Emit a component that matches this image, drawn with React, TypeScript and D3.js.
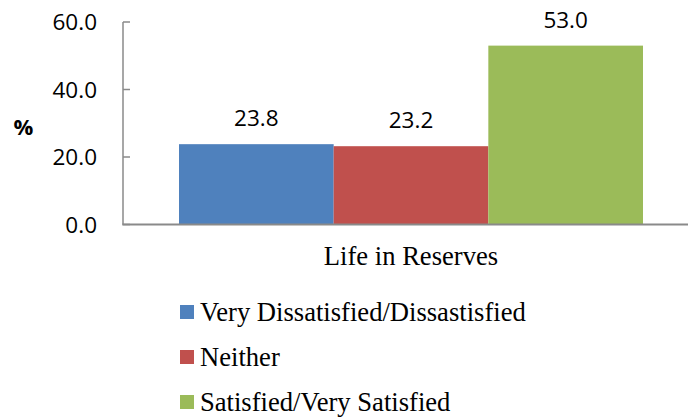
import React from "react";
import * as d3 from "d3";

const categories = ["Life in Reserves"];
const seriesNames = ["Very Dissatisfied/Dissastisfied", "Neither", "Satisfied/Very Satisfied"];
const seriesValues = [23.8, 23.2, 53.0];
const seriesColors = ["#4F81BD", "#C0504D", "#9BBB59"];
const yTicks = [0, 20, 40, 60];

const W = 688;
const H = 419;
const plotLeft = 123;
const plotRight = 699;
const plotTop = 22;
const plotBottom = 224.5;

export default function App() {
  const y = d3.scaleLinear().domain([0, 60]).range([plotBottom, plotTop]);
  const xCat = d3
    .scaleBand<string>()
    .domain(categories)
    .range([plotLeft, plotRight])
    .paddingInner(0)
    .paddingOuter(0.1207);
  const xSer = d3
    .scaleBand<string>()
    .domain(seriesNames)
    .range([0, xCat.bandwidth()])
    .padding(0);
  const sansFont = "'Open Sans', 'Liberation Sans', sans-serif";
  const serifFont = "'Liberation Serif', 'Times New Roman', serif";
  const axisColor = "#8a8a8a";

  return (
    <svg
      width={W}
      height={H}
      style={{ position: "fixed", left: 0, top: 0, background: "#fff" }}
    >
      <rect x={0} y={0} width={W} height={H} fill="#fff" />
      {/* bars */}
      {categories.map((c) => (
        <g key={c} transform={`translate(${xCat(c)},0)`}>
          {seriesNames.map((s, i) => (
            <g key={s}>
              <rect
                x={xSer(s)}
                y={y(seriesValues[i])}
                width={xSer.bandwidth()}
                height={y(0) - y(seriesValues[i])}
                fill={seriesColors[i]}
              />
              <text
                x={(xSer(s) as number) + xSer.bandwidth() / 2}
                y={y(seriesValues[i]) - 18}
                textAnchor="middle"
                fontFamily={sansFont}
                fontSize={22.5}
                fill="#000"
              >
                {seriesValues[i].toFixed(1)}
              </text>
            </g>
          ))}
        </g>
      ))}
      {/* y axis */}
      <line x1={plotLeft} x2={plotLeft} y1={plotTop} y2={plotBottom} stroke={axisColor} strokeWidth={1.5} />
      {yTicks.map((t) => (
        <g key={t}>
          <line x1={plotLeft} x2={plotLeft + 7} y1={y(t)} y2={y(t)} stroke={axisColor} strokeWidth={1.5} />
          <text
            x={97}
            y={y(t)}
            dy="0.36em"
            textAnchor="end"
            fontFamily={sansFont}
            fontSize={22.5}
            fill="#000"
          >
            {t.toFixed(1)}
          </text>
        </g>
      ))}
      {/* x axis */}
      <line x1={plotLeft - 0.75} x2={W} y1={plotBottom} y2={plotBottom} stroke={axisColor} strokeWidth={2} />
      {categories.map((c) => (
        <text
          key={c}
          x={(xCat(c) as number) + xCat.bandwidth() / 2}
          y={265}
          textAnchor="middle"
          fontFamily={serifFont}
          fontSize={26.6}
          fill="#000"
        >
          {c}
        </text>
      ))}
      {/* y title */}
      <text
        x={23.5}
        y={135}
        textAnchor="middle"
        fontFamily={sansFont}
        fontSize={22}
        fontWeight="bold"
        fill="#000"
      >
        %
      </text>
      {/* legend */}
      {seriesNames.map((s, i) => (
        <g key={s} transform={`translate(180,${321 + i * 45})`}>
          <rect x={0} y={-16} width={14} height={14} fill={seriesColors[i]} />
          <text x={20} y={0} fontFamily={serifFont} fontSize={26.6} fill="#000">
            {s}
          </text>
        </g>
      ))}
    </svg>
  );
}
